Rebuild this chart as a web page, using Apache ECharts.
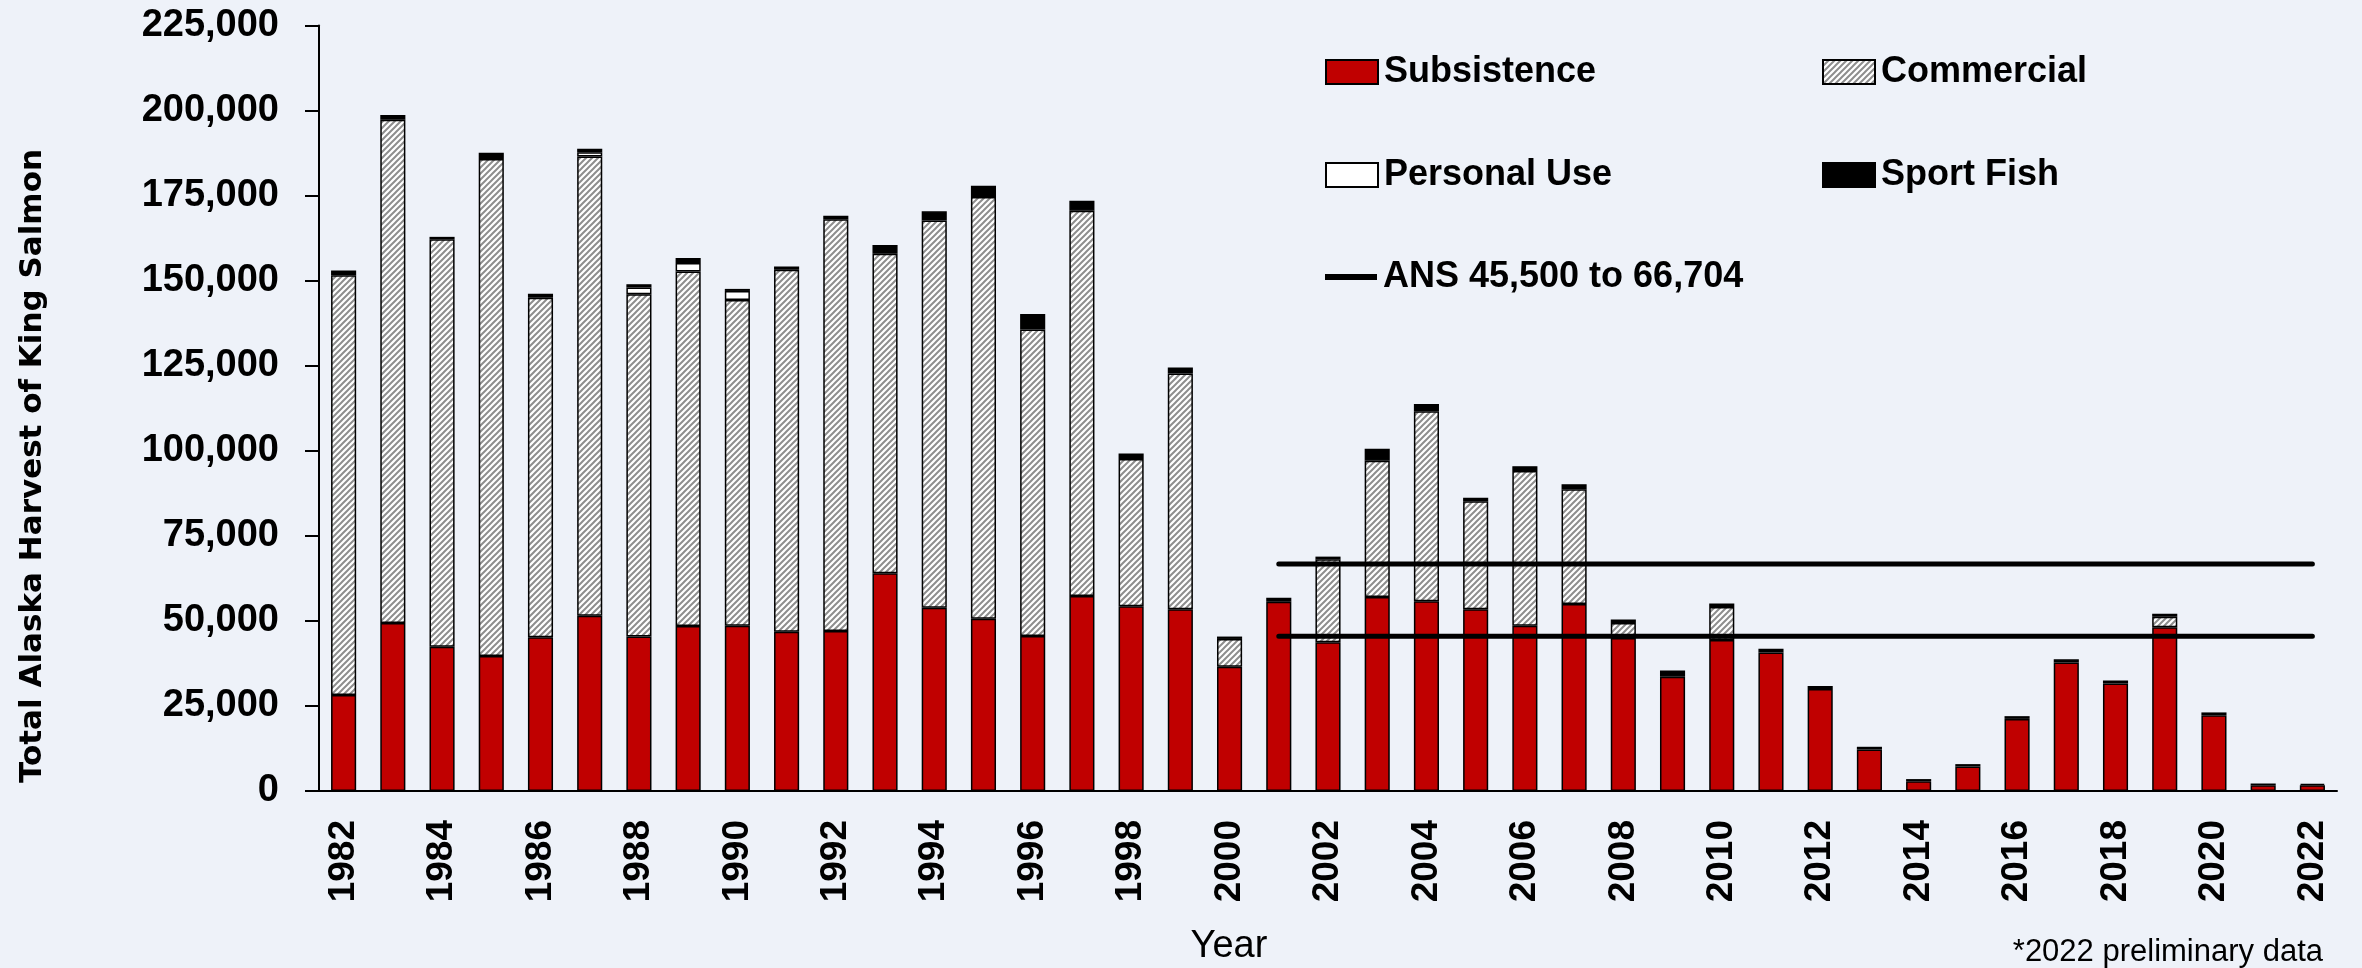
<!DOCTYPE html>
<html>
<head>
<meta charset="utf-8">
<title>Total Alaska Harvest of King Salmon</title>
<script src="https://cdn.jsdelivr.net/npm/echarts@6.0.0/dist/echarts.min.js"></script>
<style>
  html, body { margin: 0; padding: 0; background: #EEF2F9; }
  #salmonChart { width: 2362px; height: 968px; }
</style>
</head>
<body>
<div id="salmonChart"></div>
<script>
// harvest by year
const years = [
  '1982','1983','1984','1985','1986','1987','1988','1989','1990','1991',
  '1992','1993','1994','1995','1996','1997','1998','1999','2000','2001',
  '2002','2003','2004','2005','2006','2007','2008','2009','2010','2011',
  '2012','2013','2014','2015','2016','2017','2018','2019','2020','2021','2022'
];
const subsistence = [
  28200, 49400, 42400, 39700, 45200, 51500, 45400, 48500, 48600, 46800,
  47000, 64000, 53900, 50600, 45600, 57300, 54300, 53400, 36500, 55600,
  43700, 57000, 55800, 53400, 48600, 55000, 45000, 33600, 44400, 40700,
  30000, 12200, 2900, 7200, 21200, 37800, 31600, 48100, 22300, 1700, 1700
];
const commercial = [
  123400, 147900, 119800, 146100, 99800, 135000, 100600, 104200, 95700, 106400,
  121100, 93900, 113800, 124000, 90100, 113300, 43300, 69300, 8200, 0,
  24400, 40100, 55800, 31800, 45500, 33700, 4400, 0, 9700, 0,
  0, 0, 0, 0, 0, 0, 0, 3100, 0, 0, 0
];
const personalUse = [
  0, 0, 0, 0, 0, 1300, 2000, 2500, 2700, 0,
  0, 0, 0, 0, 0, 0, 0, 0, 0, 0,
  0, 0, 0, 0, 0, 0, 0, 0, 0, 0,
  0, 0, 0, 0, 0, 0, 0, 0, 0, 0, 0
];
const sportFish = [
  1400, 1400, 700, 1800, 1200, 1000, 1000, 1500, 600, 1000,
  1000, 2600, 2700, 3300, 4500, 2900, 1600, 1800, 700, 1200,
  800, 3500, 2200, 1000, 1400, 1500, 1000, 1800, 1000, 1100,
  900, 800, 600, 700, 800, 900, 900, 900, 800, 500, 400
];
const ansFrom = '2001';
const ansLow = 45500;
const ansHigh = 66704;
const yTicks = [0, 25000, 50000, 75000, 100000, 125000, 150000, 175000, 200000, 225000];

// hatch for commercial
function makeHatch() {
  var c = document.createElement('canvas');
  c.width = 6; c.height = 6;
  var ctx = c.getContext('2d');
  ctx.fillStyle = '#ffffff';
  ctx.fillRect(0, 0, 6, 6);
  ctx.strokeStyle = '#8e8e8e';
  ctx.lineWidth = 2;
  ctx.beginPath();
  ctx.moveTo(-1, 7); ctx.lineTo(7, -1);
  ctx.moveTo(-4, 4); ctx.lineTo(4, -4);
  ctx.moveTo(2, 10); ctx.lineTo(10, 2);
  ctx.stroke();
  return c;
}
const hatch = { image: makeHatch(), repeat: 'repeat' };

function noZero(arr) {
  return arr.map(function (v) { return v === 0 ? '-' : v; });
}
function ansLine(val) {
  var start = years.indexOf(ansFrom);
  return years.map(function (y, i) { return i >= start ? val : '-'; });
}

const ANS = 'ANS 45,500 to 66,704';
const fontMain = '"Liberation Sans", Arial, sans-serif';
var salmonChart = echarts.init(document.getElementById('salmonChart'));

function barSeries(name, data, color) {
  return {
    name: name,
    type: 'bar',
    stack: 'harvest',
    barWidth: '51%',
    data: noZero(data),
    itemStyle: { color: color, borderColor: '#000', borderWidth: 1.5 },
    emphasis: { disabled: true }
  };
}
function legendAt(name, left, top, extra) {
  return Object.assign({
    data: [name],
    left: left,
    top: top,
    padding: 0,
    itemWidth: 52,
    itemHeight: 24,
    icon: 'rect',
    selectedMode: false,
    textStyle: { fontFamily: fontMain, fontWeight: 'bold', fontSize: 36, color: '#000', padding: [0, 0, 0, 1] }
  }, extra || {});
}

var option = {
  backgroundColor: '#EEF2F9',
  animation: false,
  grid: { left: 319, right: 25, top: 25.6, bottom: 177 },
  legend: [
    legendAt('Subsistence', 1325, 54),
    legendAt('Commercial', 1822, 54),
    legendAt('Personal Use', 1325, 157),
    legendAt('Sport Fish', 1822, 157),
    legendAt(ANS, 1325, 259, {
      data: [{ name: ANS, icon: 'rect', itemStyle: { color: '#000', borderWidth: 0 } }],
      itemHeight: 6
    })
  ],
  xAxis: {
    type: 'category',
    data: years,
    boundaryGap: true,
    axisLine: { lineStyle: { color: '#000', width: 2 } },
    axisTick: { interval: 0, length: 13, lineStyle: { color: '#000', width: 2 } },
    axisLabel: {
      interval: 1,
      rotate: 90,
      margin: 29,
      color: '#000',
      fontFamily: fontMain,
      fontWeight: 'bold',
      fontSize: 37
    }
  },
  yAxis: {
    type: 'value',
    min: yTicks[0],
    max: yTicks[yTicks.length - 1],
    interval: yTicks[1] - yTicks[0],
    splitLine: { show: false },
    axisLine: { show: true, lineStyle: { color: '#000', width: 2 } },
    axisTick: { show: true, length: 14, lineStyle: { color: '#000', width: 2 } },
    axisLabel: {
      margin: 40,
      color: '#000',
      fontFamily: fontMain,
      fontWeight: 'bold',
      fontSize: 38,
      formatter: function (v) { return v.toLocaleString('en-US'); }
    }
  },
  series: [
    barSeries('Subsistence', subsistence, '#C00000'),
    barSeries('Commercial', commercial, hatch),
    barSeries('Personal Use', personalUse, '#ffffff'),
    barSeries('Sport Fish', sportFish, '#000000'),
    {
      name: ANS, type: 'line', data: ansLine(ansHigh), symbol: 'none', z: 5,
      lineStyle: { color: '#000', width: 5, cap: 'round' }, itemStyle: { color: '#000' }
    },
    {
      name: ANS, type: 'line', data: ansLine(ansLow), symbol: 'none', z: 5,
      lineStyle: { color: '#000', width: 5, cap: 'round' }, itemStyle: { color: '#000' }
    }
  ],
  graphic: [
    {
      type: 'text', x: 33, y: 466, rotation: Math.PI / 2,
      style: {
        text: 'Total Alaska Harvest of King Salmon',
        fill: '#000', font: 'bold 31px "DejaVu Sans", Verdana, sans-serif',
        align: 'center', verticalAlign: 'middle'
      }
    },
    {
      type: 'text', x: 1229, y: 947,
      style: {
        text: 'Year', fill: '#000', font: '38px ' + fontMain,
        align: 'center', verticalAlign: 'middle'
      }
    },
    {
      type: 'text', x: 2323, y: 952,
      style: {
        text: '*2022 preliminary data', fill: '#000', font: '31px ' + fontMain,
        align: 'right', verticalAlign: 'middle'
      }
    }
  ]
};
salmonChart.setOption(option);
</script>
</body>
</html>
